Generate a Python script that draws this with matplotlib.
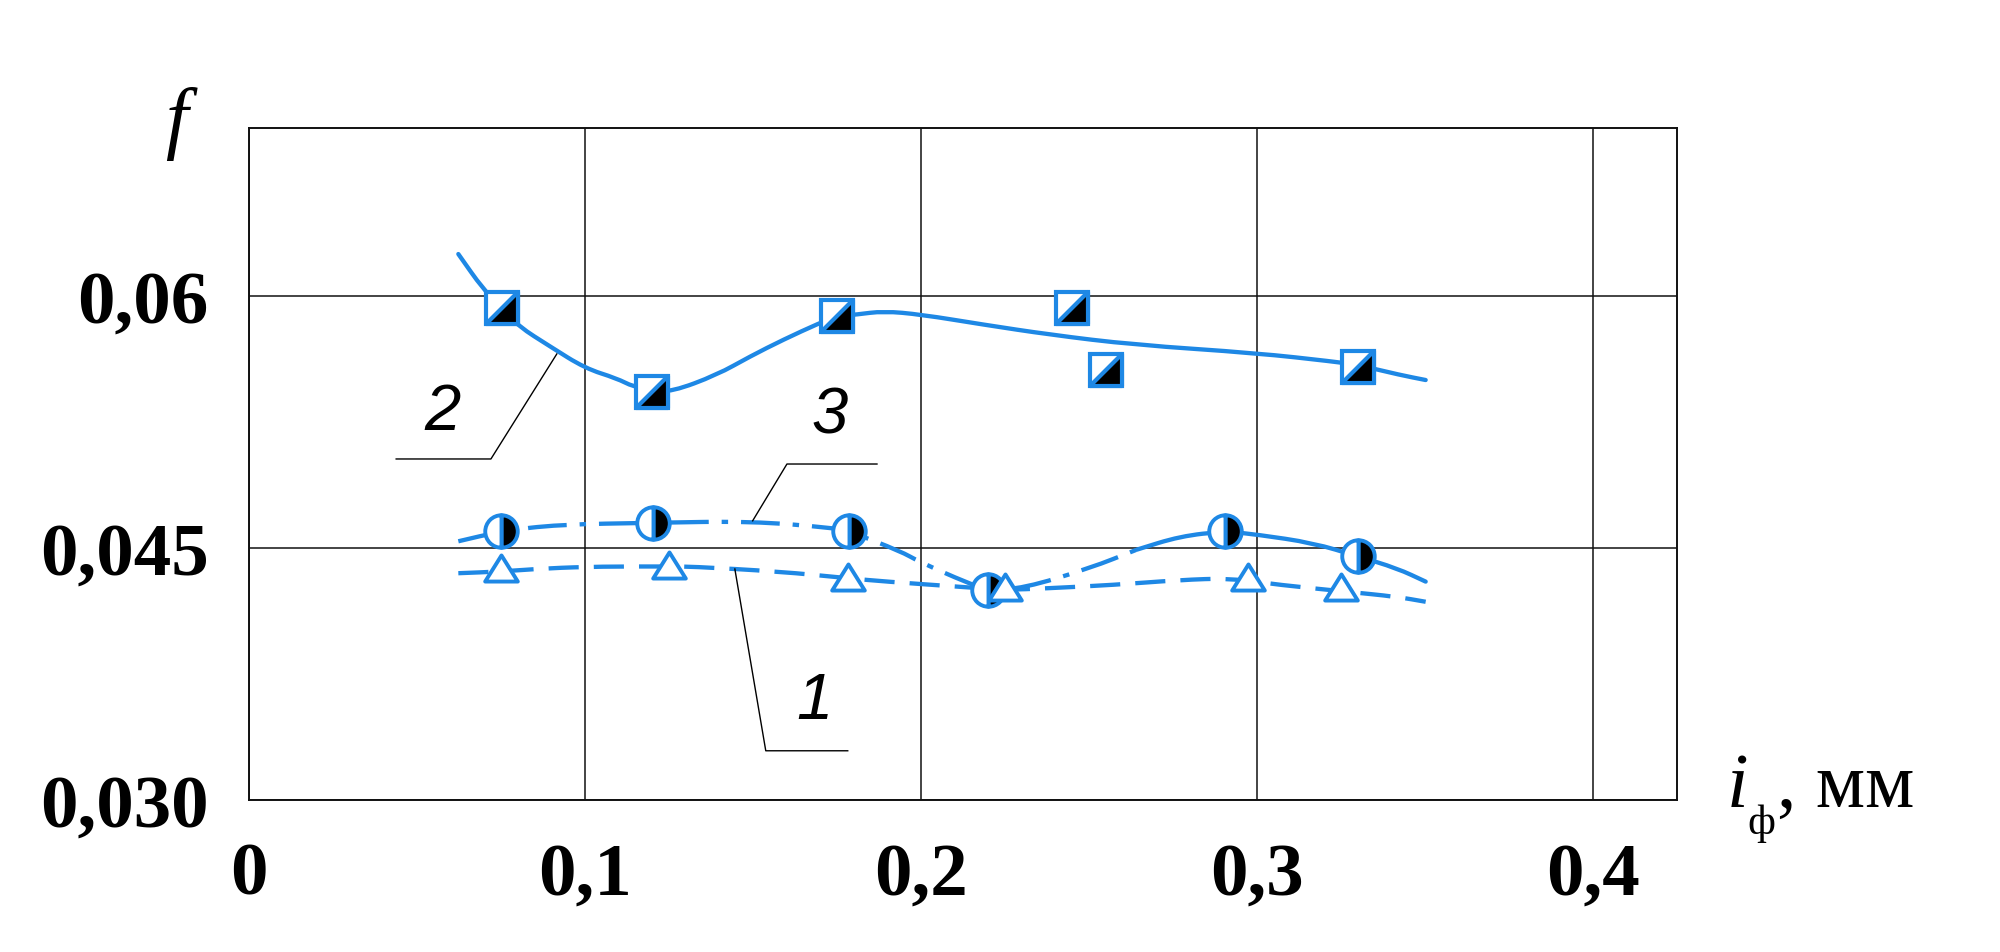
import matplotlib
matplotlib.use("Agg")
import matplotlib.pyplot as plt
from matplotlib.path import Path
from matplotlib.patches import PathPatch

# ---------------- data ----------------
x_ticks = [0.0, 0.1, 0.2, 0.3, 0.4]
x_tick_labels = ["0", "0,1", "0,2", "0,3", "0,4"]
y_ticks = [0.030, 0.045, 0.06]
y_tick_labels = ["0,030", "0,045", "0,06"]

# curve 2 (squares) – experimental points
sq_x = [0.0752, 0.1200, 0.1751, 0.2450, 0.2551, 0.3300]
sq_y = [0.0593, 0.0543, 0.0588, 0.0593, 0.0556, 0.0558]
# curve 2 fitted line
c2_x = [0.0623, 0.0697, 0.0752, 0.0802, 0.0896, 0.1000, 0.1094, 0.1144, 0.1200,
        0.1258, 0.1392, 0.1491, 0.1590, 0.1699, 0.1751, 0.1809, 0.1888, 0.2000,
        0.2185, 0.2384, 0.2632, 0.3000, 0.3227, 0.3300, 0.3426, 0.3502]
c2_y = [0.0625, 0.0604, 0.0593, 0.0582, 0.0570, 0.0557, 0.0551, 0.0546, 0.0544,
        0.0543, 0.0553, 0.0564, 0.0574, 0.0584, 0.0588, 0.0589, 0.0591, 0.0589,
        0.0583, 0.0577, 0.0571, 0.0566, 0.0561, 0.0559, 0.0553, 0.0550]

# curve 3 (half-filled circles)
ci_x = [0.0751, 0.1202, 0.1786, 0.2200, 0.2905, 0.3300]
ci_y = [0.0460, 0.0465, 0.0460, 0.0425, 0.0460, 0.0445]
c3_x = [0.0623, 0.0751, 0.0920, 0.1202, 0.1494, 0.1738, 0.1786, 0.1940, 0.1993,
        0.2141, 0.2200, 0.2305, 0.2503, 0.2642, 0.2771, 0.2905, 0.3000, 0.3168,
        0.3300, 0.3416, 0.3502]
c3_y = [0.0454, 0.0460, 0.0464, 0.0465, 0.0466, 0.0462, 0.0460, 0.0448, 0.0442,
        0.0429, 0.0425, 0.0426, 0.0438, 0.0449, 0.0457, 0.0460, 0.0458, 0.0453,
        0.0445, 0.0438, 0.0430]
c3_split = 13  # dash-dot before, solid after

# curve 1 (open triangles)
tr_x = [0.0751, 0.1249, 0.1783, 0.2250, 0.2974, 0.3250]
tr_y = [0.0438, 0.0440, 0.0433, 0.0427, 0.0433, 0.0427]
c1_x = [0.0623, 0.0751, 0.0889, 0.1048, 0.1249, 0.1313, 0.1579, 0.1783, 0.1897,
        0.2109, 0.2250, 0.2374, 0.2572, 0.2771, 0.2920, 0.3068, 0.3267, 0.3416,
        0.3502]
c1_y = [0.0435, 0.0436, 0.0438, 0.0439, 0.0439, 0.0439, 0.0436, 0.0432, 0.0430,
        0.0427, 0.0425, 0.0426, 0.0428, 0.0431, 0.0432, 0.0428, 0.0424, 0.0421,
        0.0418]

# curve number labels and leader lines
lab_text = ["2", "3", "1"]
lab_x = [0.0577, 0.1729, 0.1682]
lab_y = [0.0531, 0.0529, 0.0359]
lead_x = [[0.0916, 0.0720, 0.0438], [0.1499, 0.1601, 0.1869], [0.1446, 0.1538, 0.1782]]
lead_y = [[0.05655, 0.0503, 0.0503], [0.04662, 0.0500, 0.0500], [0.04375, 0.03293, 0.03293]]

# ---------------- style ----------------
BLUE = "#1E88E5"
SERIF = ["Liberation Serif", "DejaVu Serif"]
LW = 3.1


def smooth_curve(ax, xs, ys, **kw):
    """Draw a smooth line through the read points (quadratic Bezier via matplotlib Path)."""
    pts = list(zip(xs, ys))
    verts = [pts[0]]
    codes = [Path.MOVETO]
    if len(pts) > 2:
        mid = ((pts[0][0] + pts[1][0]) / 2, (pts[0][1] + pts[1][1]) / 2)
        verts.append(mid)
        codes.append(Path.LINETO)
        for i in range(1, len(pts) - 1):
            nxt = ((pts[i][0] + pts[i + 1][0]) / 2, (pts[i][1] + pts[i + 1][1]) / 2)
            verts += [pts[i], nxt]
            codes += [Path.CURVE3, Path.CURVE3]
    verts.append(pts[-1])
    codes.append(Path.LINETO)
    patch = PathPatch(Path(verts, codes), fill=False, edgecolor=BLUE, lw=LW,
                      transform=ax.transData, zorder=3, **kw)
    ax.add_patch(patch)


fig = plt.figure(figsize=(20, 9.53), dpi=100)
fig.patch.set_facecolor("white")
ax = fig.add_axes([0.1245, 0.1595, 0.714, 0.7051])
ax.set_xlim(0, 0.425)
ax.set_ylim(0.030, 0.070)

ax.set_xticks(x_ticks, x_tick_labels)
ax.set_yticks(y_ticks, y_tick_labels)
ax.tick_params(axis="both", length=0)
ax.tick_params(axis="x", pad=30)
ax.tick_params(axis="y", pad=29)
for lab in ax.get_xticklabels() + ax.get_yticklabels():
    lab.set_fontfamily(SERIF)
    lab.set_fontweight("bold")
    lab.set_fontsize(54)
ax.grid(True, color="#111111", linewidth=1.1)
ax.set_axisbelow(True)
for sp in ax.spines.values():
    sp.set_linewidth(1.4)
    sp.set_color("#111111")

# curve 2 solid
smooth_curve(ax, c2_x, c2_y, capstyle="round")
# curve 3 dash-dot then solid
smooth_curve(ax, c3_x[:c3_split + 1], c3_y[:c3_split + 1],
             linestyle=(0, (9, 3, 1.5, 3)))
smooth_curve(ax, c3_x[c3_split:], c3_y[c3_split:], capstyle="round")
# curve 1 dashed
smooth_curve(ax, c1_x, c1_y, linestyle=(0, (7, 3.5)))

# markers
ax.plot(sq_x, sq_y, linestyle="none", marker="s", markersize=23.5,
        markerfacecolor="white", markeredgecolor=BLUE, markeredgewidth=3.0, zorder=5)
lower_right = Path([(-1, -1), (1, -1), (1, 1), (-1, -1)],
                   [Path.MOVETO, Path.LINETO, Path.LINETO, Path.CLOSEPOLY])
ax.plot(sq_x, sq_y, linestyle="none", marker=lower_right, markersize=23.5,
        markerfacecolor="black", markeredgecolor=BLUE, markeredgewidth=3.0, zorder=6)

ax.plot(ci_x, ci_y, linestyle="none", marker="o", markersize=23.4,
        fillstyle="right", markerfacecolor="black", markerfacecoloralt="white",
        markeredgecolor=BLUE, markeredgewidth=2.8, zorder=5)

tri = Path([(-1, -0.8), (1, -0.8), (0, 0.8), (-1, -0.8)],
           [Path.MOVETO, Path.LINETO, Path.LINETO, Path.CLOSEPOLY])
ax.plot(tr_x, tr_y, linestyle="none", marker=tri, markersize=23.5,
        markerfacecolor="white", markeredgecolor=BLUE, markeredgewidth=2.8, zorder=5)

# leader lines + curve numbers
for lx, ly in zip(lead_x, lead_y):
    ax.plot(lx, ly, color="black", lw=1.0, zorder=4)
for t, x, y in zip(lab_text, lab_x, lab_y):
    ax.text(x, y, t, fontsize=47, fontstyle="italic",
            family=["Liberation Sans", "DejaVu Sans"],
            ha="center", va="center", zorder=7)

# axis titles
fig.text(176 / 2000, 1 - 144 / 953, "f", fontsize=58, fontstyle="italic",
         family=SERIF, ha="center", va="baseline")
fig.text(1727 / 2000, 1 - 807 / 953, "i", fontsize=56, fontstyle="italic",
         family=SERIF, ha="left", va="baseline")
fig.text(1747 / 2000, 1 - 834 / 953, "ф", fontsize=31,
         family=SERIF, ha="left", va="baseline")
fig.text(1777 / 2000, 1 - 807 / 953, ", мм", fontsize=56,
         family=SERIF, ha="left", va="baseline")

fig.savefig("out.png", dpi=100, facecolor="white")
